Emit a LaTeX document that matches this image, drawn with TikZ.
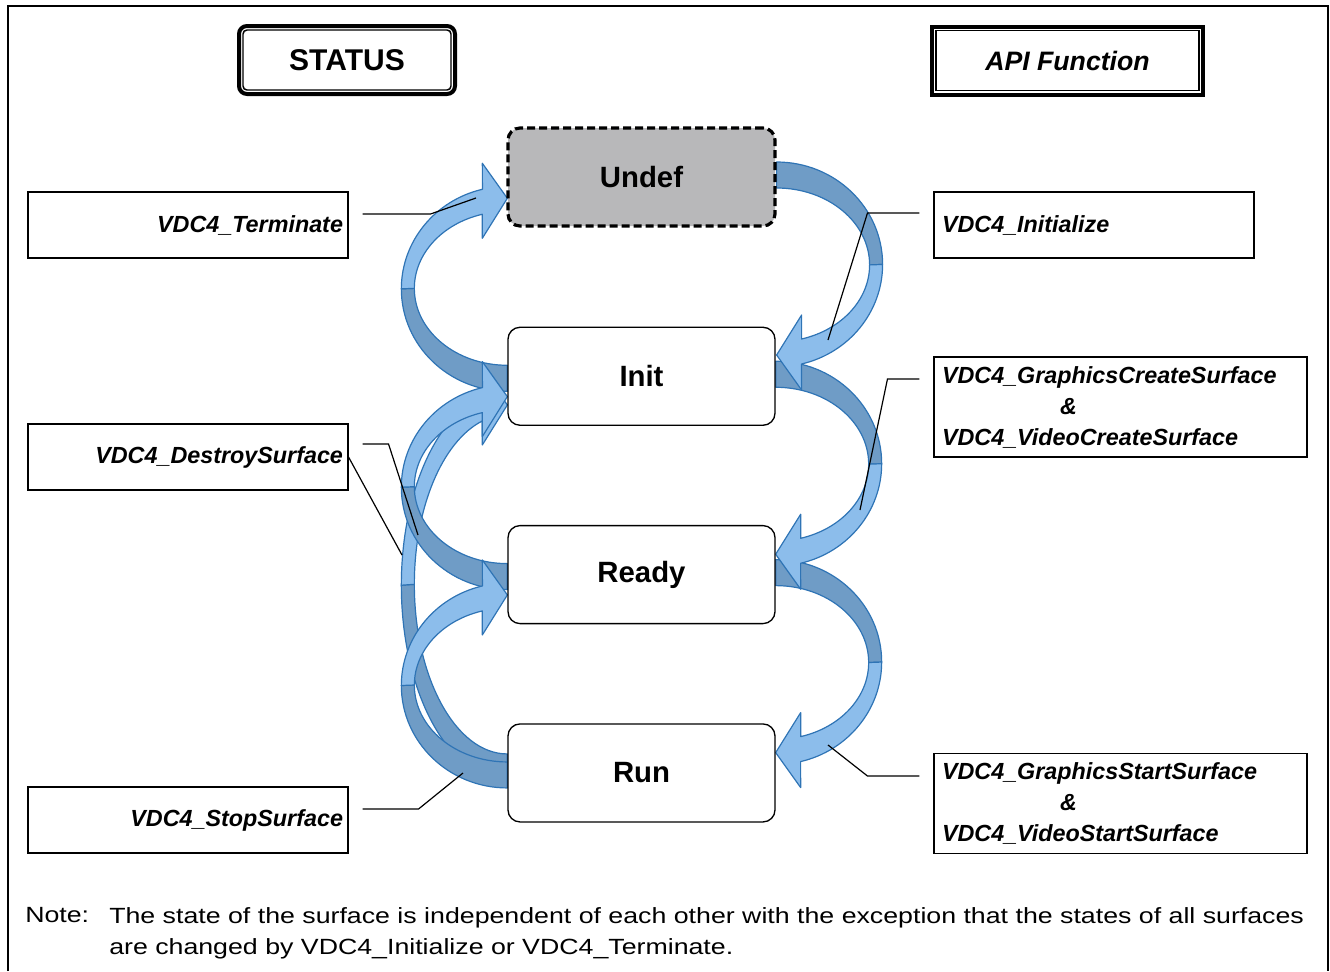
\documentclass[tikz,border=0pt]{standalone}
\usepackage{fontspec}
\setmainfont{Liberation Sans}
\newfontfamily\notefont[FakeStretch=1.215]{Liberation Sans}
\usetikzlibrary{positioning,calc,backgrounds}

\definecolor{bandback}{HTML}{6F9CC6}
\definecolor{bandfront}{HTML}{8CBDEB}
\definecolor{bandedge}{HTML}{2F74B5}
\definecolor{undefgray}{HTML}{B8B8BA}

\newcommand{\apifont}{\fontsize{17.5}{23.25}\selectfont\bfseries\itshape}

% bent block arrow: #1 tail anchor, #2 rotation (0 = right side, 180 = left side), #3 drop in px
\newcommand{\bendarrow}[3]{%
  \pgfmathsetmacro{\bendro}{(#3+4)/1.972}%
  \pgfmathsetmacro{\bendri}{(#3-47)/1.963}%
  \begin{scope}[shift={(#1)}, rotate=#2]
    \filldraw[band, fill=bandback] (0,15) arc[start angle=90, end angle=0, x radius=106, y radius=\bendro]
      -- (93,{-11-\bendri}) arc[start angle=0, end angle=90, x radius=93, y radius=\bendri] -- cycle;
    \filldraw[band, fill=bandfront] (106,{15-\bendro}) arc[start angle=0, end angle=-76.4, x radius=106, y radius=\bendro]
      -- (25,{-#3-15}) -- (0,{-#3+20}) -- (25,{-#3+60}) -- (25,{-#3+36})
      arc[start angle=-74.4, end angle=0, x radius=93, y radius=\bendri] -- cycle;
  \end{scope}}

\begin{document}
\begin{tikzpicture}[
		x=0.75pt, y=0.75pt, % one unit = one pixel
		node distance=74.25pt, % gap between states
		state/.style={draw, fill=white, line width=1pt, rounded corners=9pt, minimum width=200.25pt, minimum height=73.5pt, font=\fontsize{22}{26}\selectfont\bfseries},
		headbox/.style={draw, line width=3pt, minimum height=51pt, font=\fontsize{22.5}{26}\selectfont\bfseries},
		apibox/.style={draw, line width=0.8pt, minimum height=49.5pt, inner ysep=0pt, font=\apifont},
		leftapi/.style={apibox, text width=232.5pt, inner xsep=3.75pt, align=right},
		rightapi/.style={apibox, text width=228pt, inner xsep=6pt, align=left},
		wideapi/.style={apibox, text width=267.75pt, inner xsep=6pt, align=left, minimum height=75pt},
		band/.style={draw=bandedge, line width=0.9pt, line join=round},
		pin/.style={draw, line width=0.9pt}
		]
		
		\useasboundingbox (0,0) rectangle (1330,-971);
		\draw[line width=1.1pt] (8,-971) |- (1328,-6) -- (1328,-971);
		
		% headings
		\node[headbox, rounded corners=6pt, minimum width=162pt] (status) at (347,-60) {STATUS};
		\node[headbox, minimum width=203.25pt, font=\fontsize{20}{24}\selectfont\bfseries\itshape] (api) at (1067.5,-60.5) {API Function};
		\draw[line width=1.1pt, rounded corners=3pt] ([shift={(6,6)}]status.south west) rectangle ([shift={(-6,-6)}]status.north east);
		\draw[line width=1.1pt] ([shift={(6,6)}]api.south west) rectangle ([shift={(-6,-6)}]api.north east);
		
		% states
		\node[state, dashed, dash pattern=on 6pt off 3pt, line width=2.4pt, fill=undefgray] (undef) at (641.5,-177) {Undef};
		\node[state] (init) [below=of undef] {Init};
		\node[state] (ready) [below=of init] {Ready};
		\node[state] (run) [below=of ready] {Run};
		
		% transitions
		\begin{scope}[on background layer]
			\bendarrow{ready.east}{0}{198}
			\bendarrow{init.east}{0}{198}
			\bendarrow{undef.east}{0}{198}
			\bendarrow{$(run.west)+(0,8)$}{180}{380}
			\bendarrow{init.west}{180}{198}
			\bendarrow{ready.west}{180}{198}
			\bendarrow{run.west}{180}{198}
		\end{scope}
		
		% API functions
		\node[leftapi] (term) at (188,-225) {VDC4\_Terminate};
		\node[leftapi] (destroy) at (188,-457) {VDC4\_DestroySurface};
		\node[leftapi] (stop) at (188,-820) {VDC4\_StopSurface};
		\node[rightapi] (initapi) at (1094,-225) {VDC4\_Initialize};
		\node[wideapi] (create) at (1120.5,-407) {VDC4\_GraphicsCreateSurface\\\hspace*{88.5pt}\&\\VDC4\_VideoCreateSurface};
		\node[wideapi] (start) at (1120.5,-803.5) {VDC4\_GraphicsStartSurface\\\hspace*{88.5pt}\&\\VDC4\_VideoStartSurface};
		
		% pointers
		\coordinate (termpin) at (476,-198);
		\coordinate (initpin) at (828,-340);
		\coordinate (createpin) at (860,-510);
		\coordinate (startpin) at (828,-745);
		\coordinate (destroypin) at (418,-535);
		\coordinate (destroylong) at (402,-555);
		\coordinate (stoppin) at (463,-773);
		\draw[pin] ([shift={(14,11)}]term.east) -- ++(68,0) -- (termpin);
		\draw[pin] ([shift={(-14,12)}]initapi.west) -- ++(-52,0) -- (initpin);
		\draw[pin] ([shift={(-14,28)}]create.west) -- ++(-32,0) -- (createpin);
		\draw[pin] ([shift={(-14,27.5)}]start.west) -- ++(-52,0) -- (startpin);
		\draw[pin] ([shift={(14,13)}]destroy.east) -- ++(26,0) -- (destroypin);
		\draw[pin] (destroy.east) -- (destroylong);
		\draw[pin] ([shift={(14,11)}]stop.east) -- ++(56,0) -- (stoppin);
		
		% note
		\node[anchor=north west, inner sep=0pt, font=\notefont\fontsize{16.5}{23.25}\selectfont] (notehead) at (25,-907) {Note:};
		\node[anchor=north west, inner sep=0pt, align=left, font=\notefont\fontsize{16.5}{23.25}\selectfont] (notebody) at (109,-907) {The state of the surface is independent of each other with the exception that the states of all surfaces\\are changed by VDC4\_Initialize or VDC4\_Terminate.};
	\end{tikzpicture}
\end{document}
